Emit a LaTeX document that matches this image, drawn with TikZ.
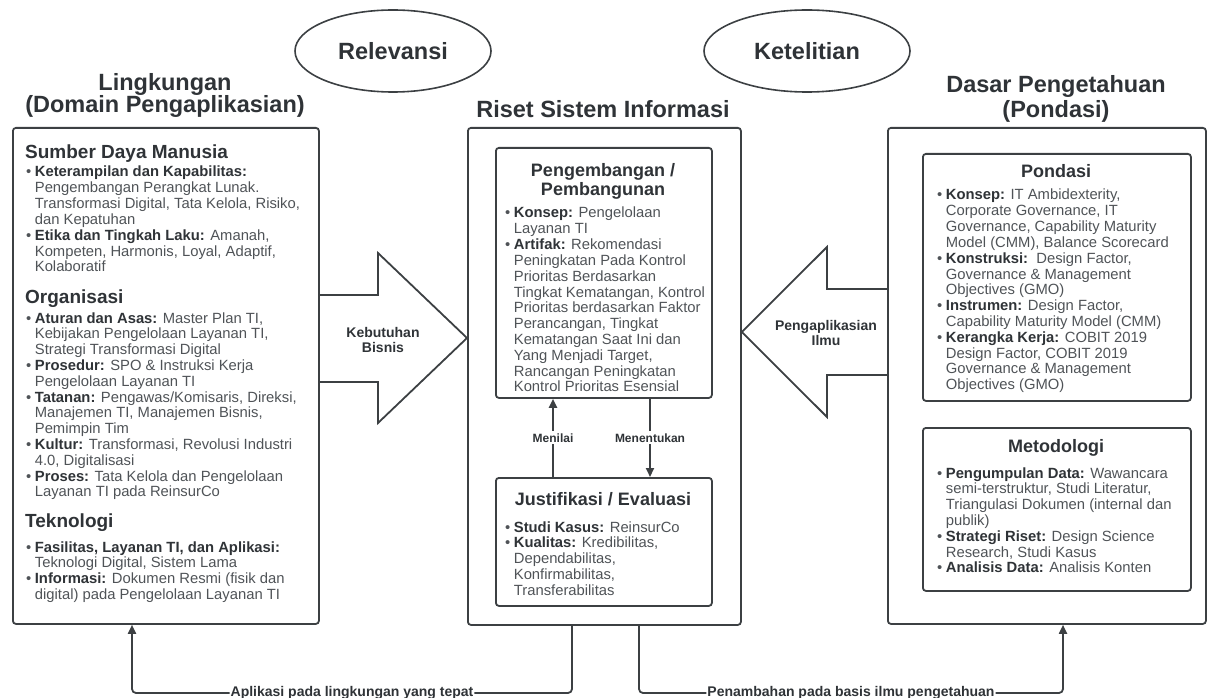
\documentclass[tikz,border=0pt]{standalone}
\usepackage{fontspec}
\setmainfont{Liberation Sans}
\usetikzlibrary{arrows.meta,positioning,shapes.geometric}

\definecolor{ink}{HTML}{3C4043}
\definecolor{txt}{HTML}{2F3337}
\definecolor{body}{HTML}{4F5357}

% one bullet row: bold lead-in, rest follows in the same cell
\newcommand\itm[1]{\textbullet&\textbf{\color{txt}#1}}
\newcommand\lst[1]{\begin{tabular}[t]{@{}l@{\hspace{3.5bp}}l@{}}#1\end{tabular}}

\begin{document}
\begin{tikzpicture}
  [
    x = 1bp,
    y = -1bp,
    font = \fontsize{14.8bp}{15.8bp}\selectfont,
    text = body,
    > = {Triangle[length=9bp,width=8bp]},
    box/.style = {
      draw = ink,
      line width = 1.8bp,
      rounded corners = 3bp,
      anchor = north west,
      inner sep = 0pt,
    },
    title/.style = {
      font = \fontsize{23.5bp}{24bp}\selectfont\bfseries,
      text = txt,
      anchor = base,
      inner sep = 0pt,
    },
    head/.style = {
      font = \fontsize{19bp}{20bp}\selectfont\bfseries,
      text = txt,
      anchor = base west,
      inner sep = 0pt,
    },
    subhead/.style = {
      font = \fontsize{18bp}{18.5bp}\selectfont\bfseries,
      text = txt,
      anchor = base,
      inner sep = 0pt,
    },
    items/.style = {
      anchor = base west,
      inner sep = 0pt,
    },
    oval/.style = {
      ellipse,
      draw = ink,
      line width = 1.6bp,
      inner sep = 0pt,
      font = \fontsize{23.5bp}{24bp}\selectfont\bfseries,
      text = txt,
    },
    blk/.style = {
      draw = ink,
      line width = 1.8bp,
      line join = miter,
    },
    blklabel/.style = {
      font = \fontsize{14bp}{15bp}\selectfont\bfseries,
      text = txt,
      align = center,
      inner sep = 0pt,
    },
    flow/.style = {
      draw = ink,
      line width = 2bp,
      ->,
    },
    flowlabel/.style = {
      font = \fontsize{12bp}{13bp}\selectfont\bfseries,
      text = txt,
      fill = white,
      inner sep = 2bp,
    },
    loop/.style = {
      draw = ink,
      line width = 1.8bp,
      rounded corners = 4bp,
      ->,
    },
    looplabel/.style = {
      font = \fontsize{14bp}{15bp}\selectfont\bfseries,
      text = txt,
      fill = white,
      inner sep = 1bp,
    },
  ]

  \useasboundingbox (0,0) rectangle (1214,698);

  % titles and the two ovals
  \node[title] (lt1) at (165,91) {Lingkungan};
  \node[title] (lt2) at (165,113) {(Domain Pengaplikasian)};
  \node[title] (mt) at (603,118) {Riset Sistem Informasi};
  \node[title] (rt1) at (1056,93) {Dasar Pengetahuan};
  \node[title] (rt2) at (1056,118) {(Pondasi)};

  \node[oval, minimum width=196bp, minimum height=82bp] (rel) at (393,51) {Relevansi};
  \node[oval, minimum width=206bp, minimum height=82bp] (ket) at (807,51) {Ketelitian};

  % the three columns
  \node[box, minimum width=306bp, minimum height=496bp] (lbox) at (12,127) {};
  \node[box, minimum width=273bp, minimum height=497bp] (mbox) at (467,127) {};
  \node[box, minimum width=318bp, minimum height=496bp] (rbox) at (887,127) {};

  \node[box, minimum width=216bp, minimum height=250bp] (dev) at (495,147) {};
  \node[box, minimum width=216bp, minimum height=128bp] (eval) at (495,477) {};
  \node[box, minimum width=268bp, minimum height=247bp] (pond) at (922,153) {};
  \node[box, minimum width=268bp, minimum height=163bp] (met) at (922,427) {};

  % left column
  \node[head] (sdm) at (25,159) {Sumber Daya Manusia};
  \node[items] (sdmlist) at (26,177) {\lst{
    \itm{Keterampilan dan Kapabilitas:}\\
    & Pengembangan Perangkat Lunak.\\
    & Transformasi Digital, Tata Kelola, Risiko,\\
    & dan Kepatuhan\\
    \itm{Etika dan Tingkah Laku:} Amanah,\\
    & Kompeten, Harmonis, Loyal, Adaptif,\\
    & Kolaboratif
  }};

  \node[head] (org) at (25,303) {Organisasi};
  \node[items] (orglist) at (26,323) {\lst{
    \itm{Aturan dan Asas:} Master Plan TI,\\
    & Kebijakan Pengelolaan Layanan TI,\\
    & Strategi Transformasi Digital\\
    \itm{Prosedur:} SPO \& Instruksi Kerja\\
    & Pengelolaan Layanan TI\\
    \itm{Tatanan:} Pengawas/Komisaris, Direksi,\\
    & Manajemen TI, Manajemen Bisnis,\\
    & Pemimpin Tim\\
    \itm{Kultur:} Transformasi, Revolusi Industri\\
    & 4.0, Digitalisasi\\
    \itm{Proses:} Tata Kelola dan Pengelolaan\\
    & Layanan TI pada ReinsurCo
  }};

  \node[head] (tek) at (25,527) {Teknologi};
  \node[items] (teklist) at (26,552) {\lst{
    \itm{Fasilitas, Layanan TI, dan Aplikasi:}\\
    & Teknologi Digital, Sistem Lama\\
    \itm{Informasi:} Dokumen Resmi (fisik dan\\
    & digital) pada Pengelolaan Layanan TI
  }};

  % middle column
  \node[subhead] (devhead) at (603,177) {\begin{tabular}[t]{@{}c@{}}Pengembangan /\\Pembangunan\end{tabular}};
  \node[items] (devlist) at (505,218) {\lst{
    \itm{Konsep:} Pengelolaan\\
    & Layanan TI\\
    \itm{Artifak:} Rekomendasi\\
    & Peningkatan Pada Kontrol\\
    & Prioritas Berdasarkan\\
    & Tingkat Kematangan, Kontrol\\
    & Prioritas berdasarkan Faktor\\
    & Perancangan, Tingkat\\
    & Kematangan Saat Ini dan\\
    & Yang Menjadi Target,\\
    & Rancangan Peningkatan\\
    & Kontrol Prioritas Esensial
  }};

  \node[subhead] (evalhead) at (603,505) {Justifikasi / Evaluasi};
  \node[items] (evallist) at (505,532) {\lst{
    \itm{Studi Kasus:} ReinsurCo\\
    \itm{Kualitas:} Kredibilitas,\\
    & Dependabilitas,\\
    & Konfirmabilitas,\\
    & Transferabilitas
  }};

  % right column
  \node[subhead] (pondhead) at (1056,178) {Pondasi};
  \node[items] (pondlist) at (937,200) {\lst{
    \itm{Konsep:} IT Ambidexterity,\\
    & Corporate Governance, IT\\
    & Governance, Capability Maturity\\
    & Model (CMM), Balance Scorecard\\
    \itm{Konstruksi:}\ \ Design Factor,\\
    & Governance \& Management\\
    & Objectives (GMO)\\
    \itm{Instrumen:} Design Factor,\\
    & Capability Maturity Model (CMM)\\
    \itm{Kerangka Kerja:} COBIT 2019\\
    & Design Factor, COBIT 2019\\
    & Governance \& Management\\
    & Objectives (GMO)
  }};

  \node[subhead] (methead) at (1056,452) {Metodologi};
  \node[items] (metlist) at (937,478) {\lst{
    \itm{Pengumpulan Data:} Wawancara\\
    & semi-terstruktur, Studi Literatur,\\
    & Triangulasi Dokumen (internal dan\\
    & publik)\\
    \itm{Strategi Riset:} Design Science\\
    & Research, Studi Kasus\\
    \itm{Analisis Data:} Analisis Konten
  }};

  % block arrows between the columns
  \draw[blk] (lbox.east |- 0,295) -- (378,295) -- (378,253) -- (mbox.west |- 0,338)
    -- (378,423) -- (378,382) -- (lbox.east |- 0,382);
  \node[blklabel] (kb) at (383,340) {Kebutuhan\\Bisnis};

  \draw[blk] (rbox.west |- 0,289) -- (827,289) -- (827,247) -- (mbox.east |- 0,332)
    -- (827,417) -- (827,375) -- (rbox.west |- 0,375);
  \node[blklabel] (pi) at (826,333) {Pengaplikasian\\Ilmu};

  % inside the middle column
  \draw[flow] (eval.north -| 553,0) -- node[flowlabel]{Menilai} (dev.south -| 553,0);
  \draw[flow] (dev.south -| 650,0) -- node[flowlabel]{Menentukan} (eval.north -| 650,0);

  % feedback along the bottom
  \coordinate (apl1) at (572,693);
  \coordinate (apl2) at (132,693);
  \coordinate (tam1) at (639,693);
  \coordinate (tam2) at (1063,693);

  \draw[loop] (mbox.south -| apl1) -- (apl1) -- node[looplabel]{Aplikasi pada lingkungan yang tepat} (apl2) -- (lbox.south -| apl2);
  \draw[loop] (mbox.south -| tam1) -- (tam1) -- node[looplabel]{Penambahan pada basis ilmu pengetahuan} (tam2) -- (rbox.south -| tam2);

\end{tikzpicture}
\end{document}
